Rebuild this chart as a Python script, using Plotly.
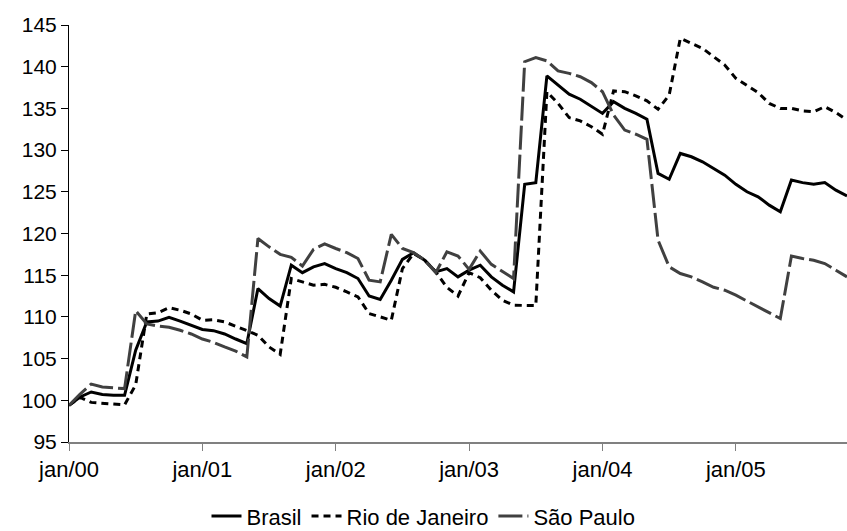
import plotly.graph_objects as go

tick_labels = ["jan/00", "jan/01", "jan/02", "jan/03", "jan/04", "jan/05"]
months = list(range(71))  # jan/00 .. nov/05

brasil = [99.4, 100.4, 101.0, 100.7, 100.6, 100.6, 106.0, 109.4, 109.5, 109.95, 109.5, 109.0,
          108.5, 108.35, 107.95, 107.35, 106.8, 113.4, 112.2, 111.3, 116.2, 115.3, 116.0, 116.4,
          115.8, 115.3, 114.6, 112.5, 112.1, 114.4, 116.9, 117.7, 116.8, 115.4, 115.8, 114.8,
          115.6, 116.2, 114.8, 113.8, 113.0, 125.9, 126.1, 138.9, 137.8, 136.7, 136.1, 135.3,
          134.4, 135.8, 135.0, 134.4, 133.7, 127.2, 126.5, 129.6, 129.2, 128.6, 127.8, 127.0,
          125.9, 125.0, 124.4, 123.4, 122.6, 126.4, 126.1, 125.9, 126.1, 125.2, 124.5]

rio = [99.4, 100.35, 99.75, 99.65, 99.6, 99.45, 101.85, 110.35, 110.5, 111.1, 110.8, 110.35,
       109.6, 109.65, 109.4, 108.9, 108.35, 107.8, 106.4, 105.5, 114.6, 114.2, 113.8, 113.9,
       113.55, 113.0, 112.4, 110.4, 110.0, 109.6, 115.8, 117.6, 116.8, 115.4, 113.55, 112.5,
       115.3, 114.7, 113.2, 112.0, 111.4, 111.4, 111.35, 137.0, 135.6, 133.9, 133.5, 132.8,
       131.9, 137.1, 137.0, 136.5, 135.9, 134.9, 136.6, 143.4, 142.8, 142.2, 141.2, 140.2,
       138.6, 137.7, 136.9, 135.6, 135.0, 135.0, 134.7, 134.6, 135.2, 134.5, 133.6]

sao_paulo = [99.4, 100.75, 101.95, 101.6, 101.5, 101.4, 110.75, 109.15, 108.9, 108.75, 108.4, 107.95,
             107.35, 106.95, 106.4, 105.9, 105.2, 119.4, 118.4, 117.5, 117.15, 116.1, 118.1, 118.75,
             118.2, 117.7, 117.0, 114.4, 114.2, 119.9, 118.2, 117.7, 116.8, 115.3, 117.8, 117.3,
             115.7, 117.9, 116.3, 115.4, 114.6, 140.6, 141.1, 140.7, 139.5, 139.2, 138.8, 138.1,
             137.0, 134.2, 132.4, 131.9, 131.3, 119.2, 116.0, 115.2, 114.8, 114.2, 113.55, 113.2,
             112.6, 111.9, 111.2, 110.4, 109.8, 117.3, 117.0, 116.8, 116.4, 115.6, 114.8]

FONT = "Liberation Sans, Arial, sans-serif"
FS = 21

fig = go.Figure()
fig.add_trace(go.Scatter(x=months, y=brasil, mode="lines", name="Brasil",
                         line=dict(color="#000000", width=3)))
fig.add_trace(go.Scatter(x=months, y=rio, mode="lines", name="Rio de Janeiro",
                         line=dict(color="#000000", width=3, dash="7px,5px")))
fig.add_trace(go.Scatter(x=months, y=sao_paulo, mode="lines", name="São Paulo",
                         line=dict(color="#404040", width=3, dash="24px,5px")))

fig.update_layout(
    width=847, height=531,
    margin=dict(l=69, r=0, t=25, b=89, autoexpand=False),
    paper_bgcolor="white", plot_bgcolor="white",
    font=dict(family=FONT, size=FS, color="#000000"),
    showlegend=True,
    legend=dict(orientation="h", xref="container", yref="container",
                x=0.5, xanchor="center", y=0.028, yanchor="middle",
                font=dict(family=FONT, size=FS + 1, color="#000000"),
                itemwidth=30, tracegroupgap=0, bgcolor="rgba(0,0,0,0)"),
    xaxis=dict(range=[0, 70], tickmode="array", tickvals=[0, 12, 24, 36, 48, 60],
               ticktext=tick_labels, showgrid=False, zeroline=False, tickangle=0,
               automargin=False,
               showline=True, linecolor="#808080", linewidth=2,
               ticks="outside", ticklen=7, tickcolor="#808080", tickwidth=1,
               tickfont=dict(family=FONT, size=FS + 1, color="#000000")),
    yaxis=dict(range=[95, 145], dtick=5, tick0=95, showgrid=False, zeroline=False,
               automargin=False,
               showline=True, linecolor="#000000", linewidth=1,
               ticks="outside", ticklen=7, tickcolor="#000000", tickwidth=1,
               tickfont=dict(family=FONT, size=FS, color="#000000")),
)

fig.write_html("out.html")
